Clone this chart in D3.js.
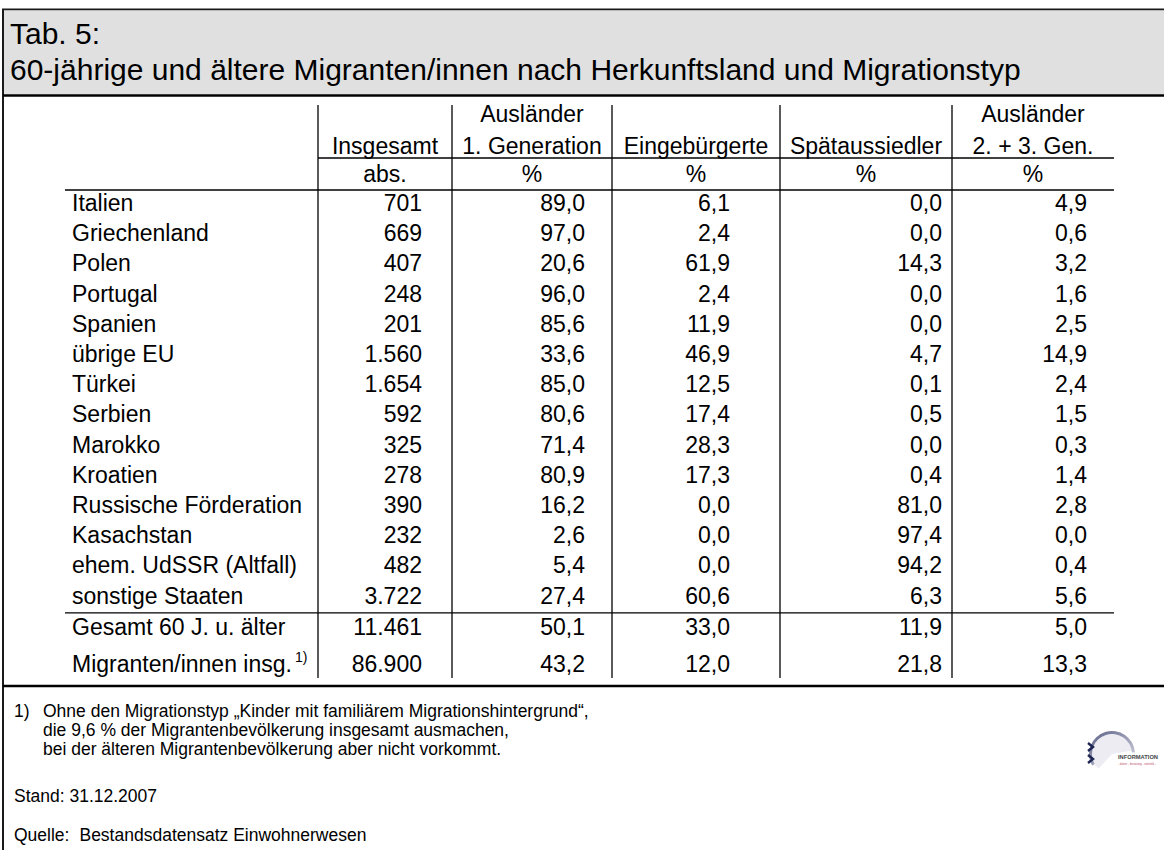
<!DOCTYPE html>
<html><head><meta charset="utf-8">
<script src="https://cdn.jsdelivr.net/npm/d3@7"></script>
<style>
html,body{margin:0;padding:0;background:#fff;}
svg{display:block;font-family:Arial,"Liberation Sans",sans-serif;}
</style></head>
<body><svg id="c" width="1164" height="850"></svg>
<script>
// ---- data ----
const titleLines = ["Tab. 5:", "60-jährige und ältere Migranten/innen nach Herkunftsland und Migrationstyp"];
const columns = ["label", "insgesamt", "ausl1", "eing", "spaet", "ausl23"];
const headerTop = ["", "", "Ausländer", "", "", "Ausländer"];
const headerMain = ["", "Insgesamt", "1. Generation", "Eingebürgerte", "Spätaussiedler", "2. + 3. Gen."];
const units = ["", "abs.", "%", "%", "%", "%"];
const countries = ["Italien", "Griechenland", "Polen", "Portugal", "Spanien", "übrige EU", "Türkei", "Serbien", "Marokko", "Kroatien", "Russische Förderation", "Kasachstan", "ehem. UdSSR (Altfall)", "sonstige Staaten"];
const insgesamt = [701, 669, 407, 248, 201, 1560, 1654, 592, 325, 278, 390, 232, 482, 3722];
const auslaender1 = [89.0, 97.0, 20.6, 96.0, 85.6, 33.6, 85.0, 80.6, 71.4, 80.9, 16.2, 2.6, 5.4, 27.4];
const eingebuergerte = [6.1, 2.4, 61.9, 2.4, 11.9, 46.9, 12.5, 17.4, 28.3, 17.3, 0.0, 0.0, 0.0, 60.6];
const spaetaussiedler = [0.0, 0.0, 14.3, 0.0, 0.0, 4.7, 0.1, 0.5, 0.0, 0.4, 81.0, 97.4, 94.2, 6.3];
const auslaender23 = [4.9, 0.6, 3.2, 1.6, 2.5, 14.9, 2.4, 1.5, 0.3, 1.4, 2.8, 0.0, 0.4, 5.6];
const totalLabels = ["Gesamt 60 J. u. älter", "Migranten/innen insg."];
const totalNotes = ["", "1)"];
const totalInsgesamt = [11461, 86900];
const totalAusl1 = [50.1, 43.2];
const totalEing = [33.0, 12.0];
const totalSpaet = [11.9, 21.8];
const totalAusl23 = [5.0, 13.3];
const footnoteMarker = "1)";
const footnoteLines = ["Ohne den Migrationstyp „Kinder mit familiärem Migrationshintergrund“,", "die 9,6 % der Migrantenbevölkerung insgesamt ausmachen,", "bei der älteren Migrantenbevölkerung aber nicht vorkommt."];
const standText = "Stand: 31.12.2007";
const quelleText = ["Quelle:", "Bestandsdatensatz Einwohnerwesen"];

// ---- build ----
const loc = d3.formatLocale({decimal: ",", thousands: ".", grouping: [3], currency: ["", "€"]});
const fmtInt = loc.format(",d");
const fmtPct = loc.format(",.1f");

const svg = d3.select("#c");
const W = 1164;
const FONT = 23;

// outer frame + header band
svg.append("rect").attr("x", 3).attr("y", 9.5).attr("width", W + 10).attr("height", 900)
  .attr("fill", "#fff").attr("stroke", "#1a1a1a").attr("stroke-width", 2);
svg.append("rect").attr("x", 4).attr("y", 10.5).attr("width", W).attr("height", 84)
  .attr("fill", "#e0e0e0");
svg.append("line").attr("x1", 3).attr("x2", W).attr("y1", 95.5).attr("y2", 95.5)
  .attr("stroke", "#000").attr("stroke-width", 2.5);

const tY = d3.scalePoint().domain(titleLines).range([44, 80]);
svg.selectAll("text.title").data(titleLines).join("text").attr("class", "title")
  .attr("x", 10).attr("y", d => tY(d)).attr("font-size", 30).attr("fill", "#000").text(d => d);

// column scale: left edges of columns
const colLeft = d3.scaleOrdinal().domain(columns).range([65, 318, 452, 612, 780, 952]);
const colRight = d3.scaleOrdinal().domain(columns).range([318, 452, 612, 780, 952, 1114]);
const numAnchor = d3.scaleOrdinal().domain(columns).range([72, 422, 585, 730, 942, 1087]);
const tableRight = colRight("ausl23");

// header
const hdr = svg.append("g").attr("font-size", FONT).attr("fill", "#000").attr("text-anchor", "middle");
columns.forEach((c, i) => {
  const cx = (colLeft(c) + colRight(c)) / 2;
  if (headerTop[i]) hdr.append("text").attr("x", cx).attr("y", 122).text(headerTop[i]);
  if (headerMain[i]) hdr.append("text").attr("x", cx).attr("y", 154).text(headerMain[i]);
  if (units[i]) hdr.append("text").attr("x", cx).attr("y", 182).text(units[i]);
});

// rows
const y = d3.scaleBand().domain(countries).range([190, 190 + 14 * 30.2]);
const yT = d3.scalePoint().domain(totalLabels).range([635, 672]);

const lines = svg.append("g").attr("stroke", "#000").attr("stroke-width", 1.3);
lines.append("line").attr("x1", colLeft("insgesamt")).attr("x2", tableRight).attr("y1", 158).attr("y2", 158);
lines.append("line").attr("x1", colLeft("label")).attr("x2", tableRight).attr("y1", 190).attr("y2", 190);
lines.append("line").attr("x1", colLeft("label")).attr("x2", tableRight).attr("y1", y.range()[1]).attr("y2", y.range()[1]);
columns.slice(1).forEach(c => {
  lines.append("line").attr("x1", colLeft(c)).attr("x2", colLeft(c)).attr("y1", 105).attr("y2", 678);
});

const body = svg.append("g").attr("font-size", FONT).attr("fill", "#000");
const rowData = countries.map((d, i) => ({label: d, note: "", base: y(d) + 21,
  vals: [insgesamt[i], auslaender1[i], eingebuergerte[i], spaetaussiedler[i], auslaender23[i]]}));
totalLabels.forEach((d, i) => rowData.push({label: d, note: totalNotes[i], base: yT(d),
  vals: [totalInsgesamt[i], totalAusl1[i], totalEing[i], totalSpaet[i], totalAusl23[i]]}));

rowData.forEach(r => {
  const t = body.append("text").attr("x", numAnchor("label")).attr("y", r.base).text(r.label);
  if (r.note) t.append("tspan").attr("font-size", 14).attr("dx", 3).attr("dy", -10).text(r.note);
  r.vals.forEach((v, j) => {
    const c = columns[j + 1];
    body.append("text").attr("x", numAnchor(c)).attr("y", r.base).attr("text-anchor", "end")
      .text(j === 0 ? fmtInt(v) : fmtPct(v));
  });
});

// footnote rule
svg.append("line").attr("x1", 3).attr("x2", W).attr("y1", 686).attr("y2", 686)
  .attr("stroke", "#000").attr("stroke-width", 2.5);

const fn = svg.append("g").attr("font-size", 17.5).attr("fill", "#000");
const fnY = d3.scalePoint().domain(footnoteLines).range([717, 755]);
fn.append("text").attr("x", 14).attr("y", 717).text(footnoteMarker);
footnoteLines.forEach(l => fn.append("text").attr("x", 43).attr("y", fnY(l)).text(l));
fn.append("text").attr("x", 14).attr("y", 802).text(standText);
fn.append("text").attr("x", 14).attr("y", 841).text(quelleText[0])
  .append("tspan").attr("dx", 10).text(quelleText[1]);

// logo
const logo = svg.append("g").attr("transform", "translate(1112,754)");
const grad = svg.append("defs").append("linearGradient").attr("id", "lg").attr("x1", 0).attr("x2", 1).attr("y1", 0).attr("y2", 1);
grad.append("stop").attr("offset", 0).attr("stop-color", "#5a5f86");
grad.append("stop").attr("offset", 1).attr("stop-color", "#d8d8e2");
logo.append("path").attr("d", d3.arc()({innerRadius: 0, outerRadius: 20, startAngle: -2.4, endAngle: 1.4}))
  .attr("fill", "#ececf2");
logo.append("path").attr("d", d3.arc()({innerRadius: 20, outerRadius: 23, startAngle: -2.1, endAngle: 1.5}))
  .attr("fill", "url(#lg)");
logo.append("path").attr("d", "M-24,-11 L-19,-7 L-24,-3").attr("fill", "none").attr("stroke", "#1d2553").attr("stroke-width", 2.4);
logo.append("path").attr("d", "M-24,1 L-19,5 L-24,9").attr("fill", "none").attr("stroke", "#1d2553").attr("stroke-width", 2.4);
logo.append("text").attr("x", 6).attr("y", 5).attr("font-size", 5.5).attr("font-weight", "bold")
  .attr("textLength", 40).attr("lengthAdjust", "spacingAndGlyphs").attr("fill", "#444").text("INFORMATION");
logo.append("text").attr("x", 6).attr("y", 10.5).attr("font-size", 3.5)
  .attr("textLength", 38).attr("lengthAdjust", "spacingAndGlyphs").attr("fill", "#c0506a")
  .text("- daten - beratung - statistik -");
</script></body></html>
